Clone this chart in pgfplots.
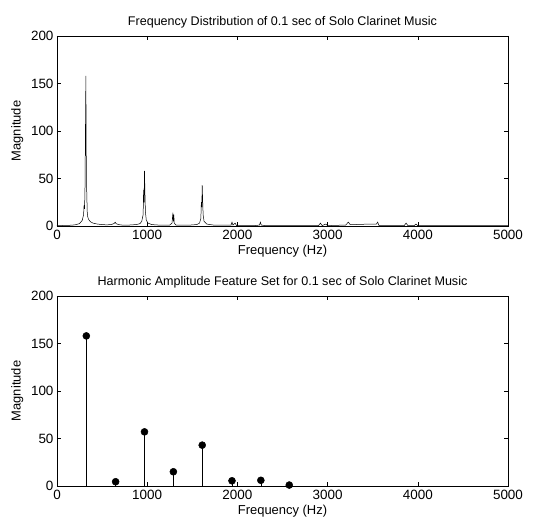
\documentclass[border=0pt]{standalone}
\usepackage{pgfplots}
\pgfplotsset{compat=1.18}
\usepackage{fontspec}
\setmainfont{Liberation Sans}
\begin{document}
\begin{tikzpicture}
\pgfplotsset{
  mystyle/.style={
    scale only axis, width=451bp, height=190bp,
    xmin=0, xmax=5000, ymin=0, ymax=200,
    xtick={0,1000,...,5000}, ytick={0,50,...,200},
    scaled x ticks=false,
    tick align=inside, tick pos=both,
    major tick length=4bp,
    /pgf/number format/assume math mode=true,
    /pgf/number format/1000 sep={},
    ticklabel style={font=\fontsize{13.5}{15}\selectfont},
    xticklabel style={yshift=-1bp},
    label style={font=\fontsize{13}{15}\selectfont},
    title style={font=\fontsize{12.6}{14}\selectfont, yshift=-2bp},
    xlabel={Frequency (Hz)}, ylabel={Magnitude},
    xlabel style={yshift=2bp}, ylabel style={yshift=1bp},
    axis line style={line width=0.5pt},
    every tick/.style={black, line width=0.5pt},
  }
}
\useasboundingbox (-57bp,-39bp) rectangle (482bp,486bp);
\begin{axis}[mystyle, at={(0,260bp)}, anchor=south west,
  title={Frequency Distribution of 0.1 sec of Solo Clarinet Music}]
\addplot[black, line width=0.5pt] coordinates {
(0,0.5) (50,0.5) (100,0.6) (150,0.8) (200,1.2) (250,2.5) (280,6) (295,12) (300,22) (305,18)
(310,35) (315,95) (320,158) (325,60) (330,35) (335,15) (340,10) (350,7) (370,4.5) (400,3)
(450,2) (500,1.5) (550,1.2) (600,1.5) (630,2.5) (645,4) (655,2.5) (680,1.5) (720,1) (800,1)
(880,1.5) (920,2.5) (940,5) (955,12) (960,38) (965,25) (970,58) (975,35) (980,15) (990,6)
(1010,3) (1050,1.5) (1150,0.8) (1250,1) (1275,3) (1285,14) (1290,5) (1295,12) (1300,3) (1320,1)
(1450,0.8) (1550,1.5) (1580,3) (1595,8) (1600,25) (1605,20) (1610,43) (1615,27) (1620,12) (1630,5)
(1660,2) (1750,0.8) (1900,0.8) (1930,1) (1940,4) (1950,1) (1975,3) (1990,0.5) (2200,0.5) (2245,1)
(2255,4) (2265,1) (2300,0.5) (2600,0.4) (2900,0.4) (2920,3) (2940,0.5) (2980,2) (3000,0.4) (3200,1)
(3230,4) (3250,1.5) (3300,1.5) (3450,2) (3540,2) (3555,4) (3570,0.5) (3850,0.5) (3870,3) (3890,0.5)
(3960,0.5) (3980,2) (4000,0.3) (5000,0.3)
};
\end{axis}
\begin{axis}[mystyle, at={(0,0)}, anchor=south west,
  title={Harmonic Amplitude Feature Set for 0.1 sec of Solo Clarinet Music}]
\addplot[ycomb, black, line width=0.5pt, mark=*, mark size=3.5bp, mark options={fill=black}] coordinates {
(325,158) (650,4.5) (970,57) (1290,15) (1610,43) (1940,5.5) (2260,6) (2575,1)
};
\end{axis}
\end{tikzpicture}
\end{document}
